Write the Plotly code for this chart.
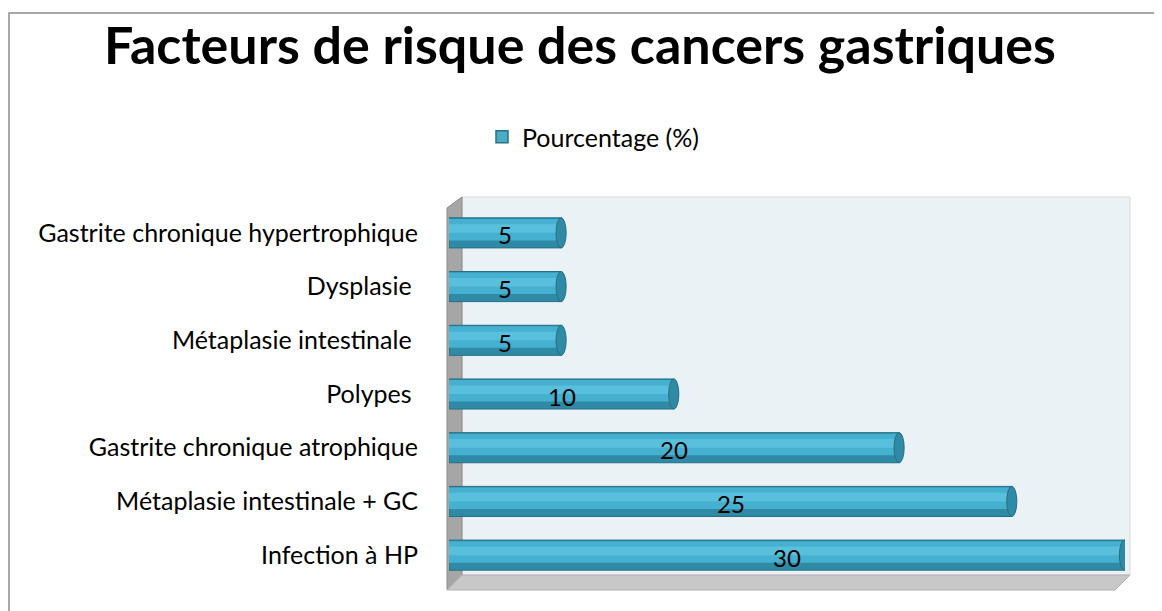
import plotly.graph_objects as go

categories = ["Infection à HP", "Métaplasie intestinale + GC", "Gastrite chronique atrophique",
              "Polypes ", "Métaplasie intestinale ", "Dysplasie ", "Gastrite chronique hypertrophique"]
values = [30, 25, 20, 10, 5, 5, 5]
series_name = "Pourcentage (%)"
title_text = "Facteurs de risque des cancers gastriques"

# page has an 8px body margin; compensate so the picture lands on the target pixels
OFF = 8
W, H = 1162 - OFF, 611 - OFF
ML, MR, MT, MB = 449 - OFF, 37, 206 - OFF, 29
PW, PH = W - ML - MR, H - MT - MB

def px(xp):
    return (xp - OFF - ML) / PW

def py(yp):
    return (H - MB - (yp - OFF)) / PH

FONT = "Lato"
fig = go.Figure()

# cylinder-like bars: layered bars of decreasing width
fig.add_trace(go.Bar(y=categories, x=values, orientation="h", width=0.56, offset=-0.28,
                     marker=dict(color="#2f8aa6", line=dict(color="#256f86", width=1)),
                     name=series_name, showlegend=False, hoverinfo="skip"))
fig.add_trace(go.Bar(y=categories, x=values, orientation="h", width=0.40, offset=-0.14,
                     marker=dict(color="#45b0cf", line=dict(width=0)),
                     showlegend=False, hoverinfo="skip"))
fig.add_trace(go.Bar(y=categories, x=values, orientation="h", width=0.16, offset=0.0,
                     marker=dict(color="#58c0dd", line=dict(width=0)),
                     showlegend=False, hoverinfo="skip"))
# legend proxy
fig.add_trace(go.Bar(y=[None], x=[None], orientation="h", name=series_name,
                     marker=dict(color="#4bacc6", line=dict(color="#2f6f82", width=1.5)),
                     showlegend=True))

# value labels (from data)
annotations = []
for c, v in zip(categories, values):
    annotations.append(dict(x=v / 2, y=c, xref="x", yref="y", text=str(v), showarrow=False,
                            yshift=-2, font=dict(family=FONT, size=24, color="#000000")))

shapes = []
# chart border
shapes.append(dict(type="rect", xref="paper", yref="paper", x0=px(9), x1=px(1200), y0=py(650), y1=py(13),
                   line=dict(color="#8c8c8c", width=1.5), fillcolor="rgba(0,0,0,0)", layer="below"))
# back wall
shapes.append(dict(type="rect", xref="paper", yref="paper", x0=px(462), x1=px(1130), y0=py(575), y1=py(197),
                   line=dict(color="#d9d9d9", width=1), fillcolor="#eaf2f6", layer="below"))
# left wall
shapes.append(dict(type="path", xref="paper", yref="paper",
                   path=f"M {px(447)} {py(208)} L {px(462)} {py(197)} L {px(462)} {py(575)} L {px(447)} {py(590)} Z",
                   line=dict(color="#8a8a8a", width=1), fillcolor="#a6a6a6", layer="below"))
# floor
shapes.append(dict(type="path", xref="paper", yref="paper",
                   path=f"M {px(447)} {py(590)} L {px(462)} {py(575)} L {px(1130)} {py(575)} L {px(1115)} {py(590)} Z",
                   line=dict(color="#b0b0b0", width=1), fillcolor="#c8c8c8", layer="below"))
# end caps of cylinders (from data)
for i, v in enumerate(values):
    shapes.append(dict(type="circle", xref="x", yref="y", x0=v - 0.25, x1=v + 0.2, y0=i - 0.28, y1=i + 0.28,
                       line=dict(color="#256f86", width=1), fillcolor="#2f8aa6", layer="above"))

fig.update_layout(
    width=W, height=H,
    margin=dict(l=ML, r=MR, t=MT, b=MB),
    paper_bgcolor="#ffffff", plot_bgcolor="rgba(0,0,0,0)",
    barmode="overlay",
    font=dict(family=FONT, color="#000000"),
    title=dict(text=f"<b>{title_text}</b>", x=(580 - OFF) / W, xanchor="center",
               y=1 - (46 - OFF) / H, yanchor="middle",
               font=dict(family=FONT, size=52, color="#000000")),
    legend=dict(orientation="h", x=px(593), xanchor="center", y=py(137), yanchor="middle",
                font=dict(family=FONT, size=25, color="#000000"), bgcolor="rgba(0,0,0,0)"),
    xaxis=dict(range=[0, 30], visible=False, fixedrange=True),
    yaxis=dict(showgrid=False, zeroline=False, showline=False, ticks="",
               tickfont=dict(family=FONT, size=25, color="#000000"), ticklabelstandoff=30,
               range=[-0.5, 6.5]),
    shapes=shapes,
    annotations=annotations,
)

fig.write_html("out.html")
